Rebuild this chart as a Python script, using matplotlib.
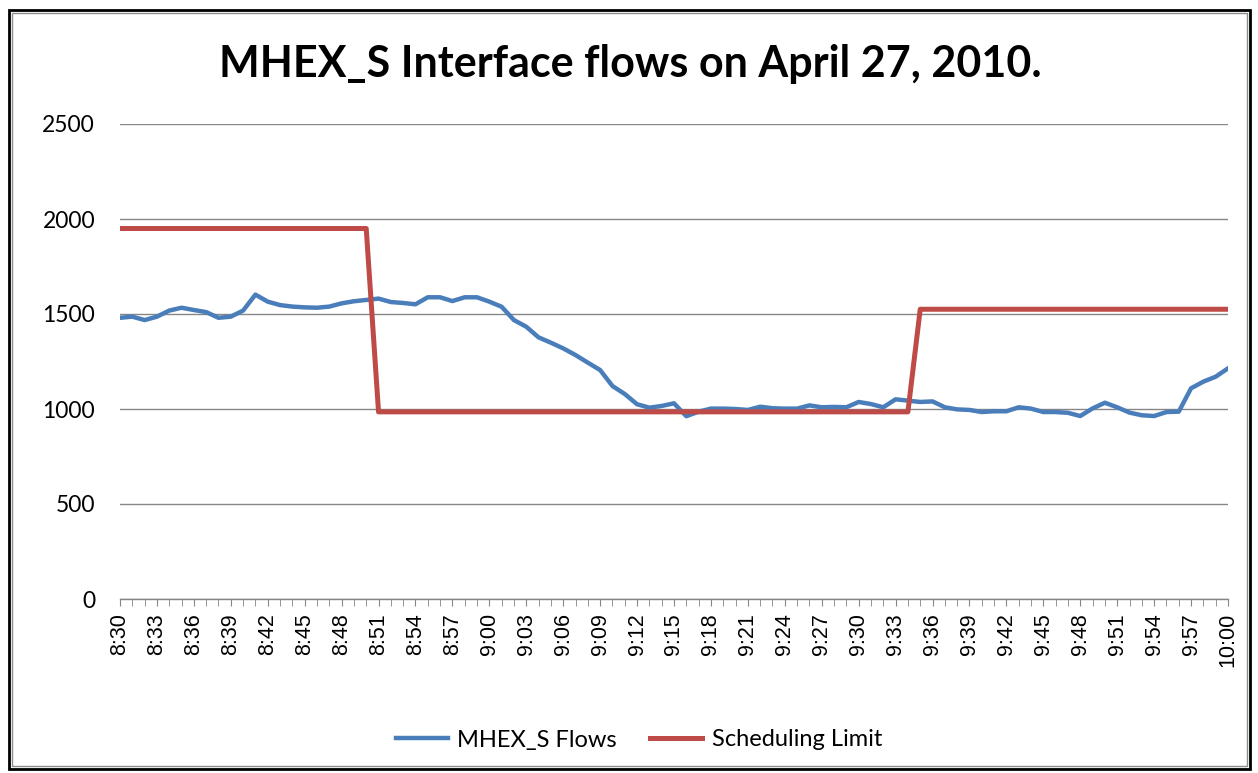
import pandas as pd
import numpy as np
import matplotlib.pyplot as plt
from matplotlib.patches import Rectangle

# Dane: odczyty co minutę, 8:30 - 10:00
czasy = [t.strftime("%-H:%M") for t in pd.date_range("2010-04-27 08:30", "2010-04-27 10:00", freq="1min")]

mhex_flows = [
    1480, 1486, 1468, 1486, 1518, 1533, 1521, 1510, 1480, 1486,
    1518, 1602, 1565, 1547, 1539, 1535, 1533, 1539, 1556, 1567,
    1574, 1581, 1563, 1558, 1551, 1588, 1588, 1568, 1588, 1588,
    1565, 1538, 1468, 1433, 1377, 1349, 1319, 1284, 1244, 1205,
    1121, 1079, 1025, 1007, 1016, 1030, 962, 986, 1002, 1002,
    1000, 995, 1012, 1004, 1002, 1002, 1019, 1009, 1011, 1009,
    1037, 1026, 1009, 1051, 1044, 1037, 1040, 1009, 998, 995,
    984, 988, 988, 1009, 1002, 984, 984, 980, 963, 1003,
    1033, 1009, 981, 967, 963, 984, 986, 1109, 1144, 1170,
    1214,
]

scheduling_limit = [
    1950, 1950, 1950, 1950, 1950, 1950, 1950, 1950, 1950, 1950,
    1950, 1950, 1950, 1950, 1950, 1950, 1950, 1950, 1950, 1950,
    1950, 985, 985, 985, 985, 985, 985, 985, 985, 985,
    985, 985, 985, 985, 985, 985, 985, 985, 985, 985,
    985, 985, 985, 985, 985, 985, 985, 985, 985, 985,
    985, 985, 985, 985, 985, 985, 985, 985, 985, 985,
    985, 985, 985, 985, 985, 1525, 1525, 1525, 1525, 1525,
    1525, 1525, 1525, 1525, 1525, 1525, 1525, 1525, 1525, 1525,
    1525, 1525, 1525, 1525, 1525, 1525, 1525, 1525, 1525, 1525,
    1525,
]

y_ticks = [0, 500, 1000, 1500, 2000, 2500]

W, H = 1258, 773
fig = plt.figure(figsize=(W / 100, H / 100), dpi=100)
ax = fig.add_axes([120 / W, 1 - 599 / H, (1228 - 120) / W, (599 - 124) / H])

x = np.arange(len(czasy))
ax.plot(x, mhex_flows, color="#4A7EBB", lw=3.2, label="MHEX_S Flows", solid_joinstyle="round")
ax.plot(x, scheduling_limit, color="#BE4B48", lw=3.6, label="Scheduling Limit")

ax.set_xlim(0, len(czasy) - 1)
ax.set_ylim(0, 2500)
ax.set_yticks(y_ticks)
ax.set_yticklabels([str(v) for v in y_ticks], fontsize=16.5, family="Lato")
ax.tick_params(axis="y", length=0, pad=18)
ax.grid(axis="y", color="#868686", lw=1)
ax.set_axisbelow(True)

ax.set_xticks(x, minor=True)
ax.set_xticks(x[::3])
ax.set_xticklabels(czasy[::3], rotation=90, fontsize=15.5, family="Liberation Sans")
ax.tick_params(axis="x", which="both", length=5, color="#868686", direction="out", pad=5)

for s in ["top", "right", "left"]:
    ax.spines[s].set_visible(False)
ax.spines["bottom"].set_color("#868686")
ax.spines["bottom"].set_linewidth(1)

fig.text(630 / W, 1 - 64 / H, "MHEX_S Interface flows on April 27, 2010.",
         ha="center", va="center", fontsize=31, fontweight="bold", family="Lato")

leg = fig.legend(loc="center", bbox_to_anchor=(639 / W, 1 - 740 / H), ncol=2, frameon=False,
                 prop={"family": "Lato", "size": 17}, handlelength=2.2, columnspacing=1.4,
                 handletextpad=0.4)

# Ramka wykresu
fig.patches.append(Rectangle((9 / W, 4 / H), (1250 - 9) / W, (763 - 4) / H, transform=fig.transFigure,
                             fill=False, edgecolor="black", lw=2))
fig.patches.append(Rectangle((12 / W, 7 / H), (1247 - 12) / W, (760 - 7) / H, transform=fig.transFigure,
                             fill=False, edgecolor="#8c8c8c", lw=1))

fig.savefig("out.png", dpi=100)
